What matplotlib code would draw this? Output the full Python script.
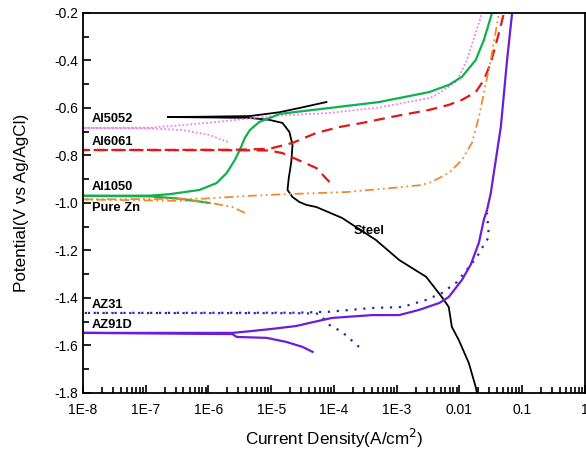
import matplotlib
matplotlib.use('Agg')
import matplotlib.pyplot as plt
import numpy as np
from matplotlib.ticker import FixedLocator, FixedFormatter, LogLocator, NullFormatter, MultipleLocator, FormatStrFormatter

plt.rcParams['font.family'] = ['Liberation Sans', 'DejaVu Sans']

# polarization curves: log10(current density, A/cm2) and potential (V vs Ag/AgCl)
steel_logi = [-1.72, -1.74, -1.85, -2.01, -2.12, -2.17, -2.28, -2.53, -2.96, -3.33, -3.87, -4.28, -4.44, -4.55,
              -4.66, -4.74, -4.72, -4.68, -4.66, -4.71, -4.82, -5.03, -5.34, -5.90, -6.65,
              -6.14, -5.34, -4.87, -4.55, -4.12]
steel_e = [-1.80, -1.775, -1.674, -1.577, -1.522, -1.438, -1.396, -1.311, -1.24, -1.156, -1.063, -1.017, -1.008,
           -0.996, -0.975, -0.945, -0.895, -0.827, -0.756, -0.701, -0.663, -0.65, -0.642, -0.640, -0.638,
           -0.637, -0.634, -0.618, -0.600, -0.575]

al5052_logi = [-5.69, -5.98, -6.41, -6.93, -8.0, -6.93, -6.41, -5.87, -5.14, -4.87, -4.07, -3.28, -2.48,
               -2.37, -2.05, -1.88, -1.76, -1.64]
al5052_e = [-0.743, -0.714, -0.693, -0.686, -0.684, -0.683, -0.672, -0.659, -0.638, -0.632, -0.621, -0.598,
            -0.558, -0.545, -0.49, -0.398, -0.30, -0.2]

al1050_logi = [-5.98, -6.46, -6.93, -8.0, -6.93, -6.62, -6.14, -5.87, -5.71, -5.58, -5.50, -5.42, -5.34, -5.19,
               -5.07, -4.98, -4.87, -4.07, -3.28, -2.48, -2.17, -1.96, -1.74, -1.61, -1.48]
al1050_e = [-1.0, -0.982, -0.972, -0.97, -0.969, -0.963, -0.945, -0.916, -0.874, -0.819, -0.777, -0.726, -0.693,
            -0.659, -0.646, -0.638, -0.625, -0.60, -0.575, -0.533, -0.503, -0.469, -0.398, -0.314, -0.2]

al6061_logi = [-4.07, -4.28, -4.50, -4.82, -5.03, -5.6, -8.0, -5.6, -5.03, -4.66, -4.28, -3.91, -3.55, -3.01,
               -2.48, -2.17, -1.96, -1.74, -1.61, -1.50, -1.37, -1.29]
al6061_e = [-0.912, -0.853, -0.827, -0.79, -0.779, -0.778, -0.777, -0.776, -0.772, -0.747, -0.705, -0.68, -0.663,
            -0.634, -0.608, -0.587, -0.566, -0.533, -0.482, -0.41, -0.284, -0.2]

zn_logi = [-5.42, -5.62, -6.10, -8.0, -6.10, -5.34, -4.87, -3.80, -3.0, -2.59, -2.44, -2.17, -1.96, -1.80, -1.69,
           -1.61, -1.50, -1.37]
zn_e = [-1.042, -1.017, -0.993, -0.985, -0.982, -0.970, -0.964, -0.954, -0.935, -0.924, -0.911, -0.874, -0.819,
        -0.747, -0.638, -0.537, -0.398, -0.2]

az31_logi = [-3.60, -3.87, -4.07, -4.24, -4.6, -8.0, -4.6, -4.07, -3.39, -2.91, -2.53, -2.28, -2.04, -1.72,
             -1.66, -1.53, -1.56]
az31_e = [-1.606, -1.543, -1.514, -1.466, -1.464, -1.463, -1.462, -1.458, -1.442, -1.438, -1.408, -1.379,
          -1.333, -1.227, -1.198, -1.143, -1.042]

az91_logi = [-4.34, -4.50, -4.76, -5.07, -5.55, -5.62, -8.0, -5.62, -5.34, -4.98, -4.60, -4.39, -4.03, -3.39,
             -2.96, -2.64, -2.32, -2.17, -1.96, -1.82, -1.69, -1.61, -1.56, -1.50, -1.42, -1.34, -1.24, -1.16]
az91_e = [-1.627, -1.606, -1.585, -1.568, -1.564, -1.552, -1.547, -1.547, -1.540, -1.53, -1.518, -1.505, -1.484,
          -1.472, -1.472, -1.45, -1.421, -1.396, -1.324, -1.26, -1.168, -1.07, -1.03, -0.958, -0.819, -0.68,
          -0.398, -0.2]

labels = ['Al5052', 'Al6061', 'Al1050', 'Pure Zn', 'AZ31', 'AZ91D']
label_e = [-0.672, -0.768, -0.958, -1.045, -1.455, -1.541]

x_ticks = [1e-8, 1e-7, 1e-6, 1e-5, 1e-4, 1e-3, 1e-2, 1e-1, 1]
x_ticklabels = ['1E-8', '1E-7', '1E-6', '1E-5', '1E-4', '1E-3', '0.01', '0.1', '1']


def cur(logi):
    return 10 ** np.asarray(logi, float)


fig = plt.figure(figsize=(5.86, 4.54), dpi=100)
ax = fig.add_axes([0.1416, 0.1344, 0.8565, 0.837])

ax.plot(cur(steel_logi), steel_e, color='black', lw=1.3)
ax.plot(cur(al5052_logi), al5052_e, color='#f080f0', lw=1.3, linestyle=(0, (1, 1.2)))
ax.plot(cur(al1050_logi), al1050_e, color='#10b050', lw=1.6)
ax.plot(cur(al6061_logi), al6061_e, color='#e01818', lw=1.6, linestyle=(0, (5, 3)))
ax.plot(cur(zn_logi), zn_e, color='#f08a30', lw=1.3, linestyle=(0, (5, 2, 1, 2, 1, 2)))
ax.plot(cur(az31_logi), az31_e, color='#2828b0', lw=1.6, linestyle=(0, (1, 3)))
ax.plot(cur(az91_logi), az91_e, color='#6a1ed8', lw=1.6)

for name, ev in zip(labels, label_e):
    ax.text(1.38e-8, ev, name, fontsize=9.3, fontweight='bold', ha='left', va='bottom')
ax.text(3.6e-4, -1.118, 'Steel', fontsize=9.3, fontweight='bold', ha='center', va='center')

ax.set_xscale('log')
ax.set_xlim(1e-8, 1)
ax.set_ylim(-1.8, -0.2)
ax.xaxis.set_major_locator(FixedLocator(x_ticks))
ax.xaxis.set_major_formatter(FixedFormatter(x_ticklabels))
ax.xaxis.set_minor_locator(LogLocator(base=10, subs=np.arange(2, 10), numticks=20))
ax.xaxis.set_minor_formatter(NullFormatter())
ax.yaxis.set_major_locator(MultipleLocator(0.2))
ax.yaxis.set_minor_locator(MultipleLocator(0.1))
ax.yaxis.set_major_formatter(FormatStrFormatter('%.1f'))
ax.tick_params(which='both', direction='in', top=False, right=False, labelsize=10, width=1.2)
ax.tick_params(which='major', length=6)
ax.tick_params(which='minor', length=4.5)
ax.tick_params(axis='x', pad=7)
for s in ax.spines.values():
    s.set_linewidth(1.3)

ax.set_xlabel('Current Density(A/cm$^2$)', fontsize=12.3, labelpad=7)
ax.set_ylabel('Potential(V vs Ag/AgCl)', fontsize=12.3, labelpad=18)

fig.savefig('out.png', dpi=100)
